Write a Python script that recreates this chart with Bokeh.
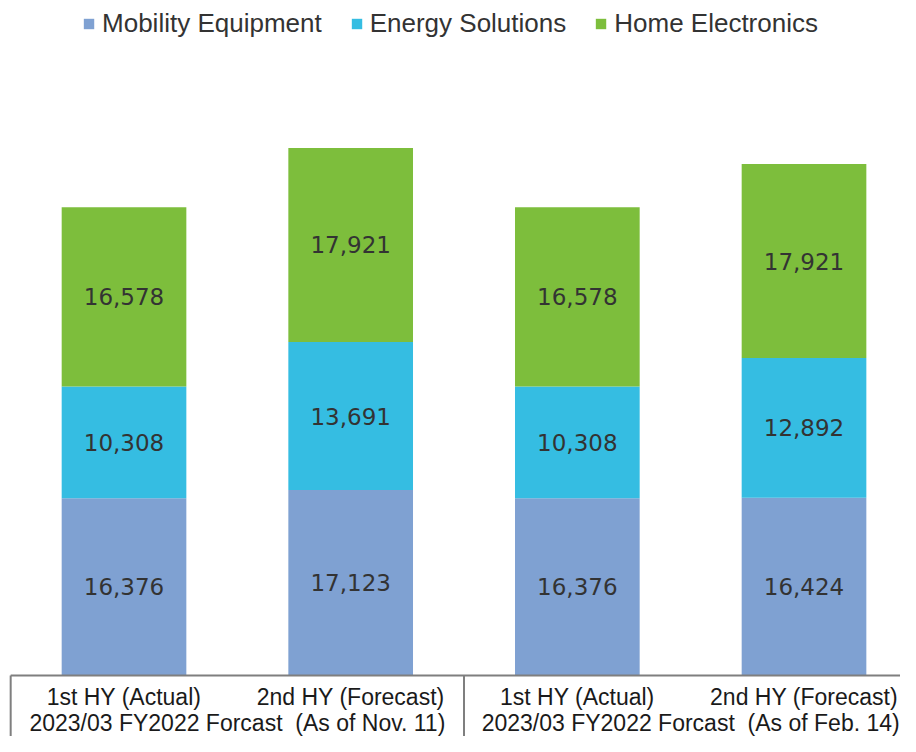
from bokeh.plotting import figure
from bokeh.models import Range1d, Legend, LegendItem, ColumnDataSource
from bokeh.core.properties import value
from bokeh.embed import file_html
from bokeh.resources import INLINE

# ---- data ----
categories = ["1st HY (Actual)", "2nd HY (Forecast)", "1st HY (Actual)", "2nd HY (Forecast)"]
groups = ["2023/03 FY2022 Forcast \u00a0(As of Nov. 11)", "2023/03 FY2022 Forcast \u00a0(As of Feb. 14)"]
series_names = ["Mobility Equipment", "Energy Solutions", "Home Electronics"]
mobility = [16376, 17123, 16376, 16424]
energy = [10308, 13691, 10308, 12892]
home = [16578, 17921, 16578, 17921]
colors = ["#7FA1D2", "#35BDE2", "#7DBE3C"]

series = [mobility, energy, home]
n = len(categories)
xs = [i + 0.5 for i in range(n)]
group_x = [1, 3]
keys = ["s0", "s1", "s2"]

src = ColumnDataSource(dict(x=xs, s0=mobility, s1=energy, s2=home))

Y0, Y1 = -5635, 62350
p = figure(width=900, height=736, output_backend="svg", toolbar_location=None,
           x_range=Range1d(-0.0449, 3.9257), y_range=Range1d(Y0, Y1),
           x_axis_location=None, y_axis_location=None, min_border=0)
p.grid.visible = False
p.outline_line_color = None

renderers = p.vbar_stack(keys, x="x", width=0.55, color=colors, source=src, line_color=None)

# segment labels
lx, ly, lt = [], [], []
for i in range(n):
    bottom = 0
    for s in series:
        v = s[i]
        lx.append(xs[i])
        ly.append(bottom + v / 2)
        lt.append(f"{v:,}")
        bottom += v
p.text(x=lx, y=ly, text=lt, text_align="center", text_baseline="middle",
       text_font=value("DejaVu Sans"), text_font_size="23px", text_color="#333333")

# table frame
p.segment(x0=[0, 0, 2, 4], y0=[0, 0, 0, 0], x1=[4, 0, 2, 4], y1=[0, Y0, Y0, Y0],
          line_color="#7F7F7F", line_width=2)

# table texts
p.text(x=xs, y=[-2000] * n, text=categories, text_align="center", text_baseline="middle",
       text_font=value("Liberation Sans"), text_font_size="23px", text_color="#1a1a1a")
p.text(x=group_x, y=[-4400] * len(group_x), text=groups, text_align="center", text_baseline="middle",
       text_font=value("Liberation Sans"), text_font_size="23px", text_color="#1a1a1a")

legend = Legend(items=[LegendItem(label=nm, renderers=[r]) for nm, r in zip(series_names, renderers)],
                orientation="horizontal", location="top_center",
                label_text_font="Liberation Sans", label_text_font_size="26px",
                label_text_color="#333333", glyph_width=13, glyph_height=13,
                label_standoff=7, spacing=28, padding=0, margin=8,
                border_line_color=None, background_fill_alpha=0)
p.add_layout(legend)

open("out.html", "w").write(file_html(p, INLINE))
